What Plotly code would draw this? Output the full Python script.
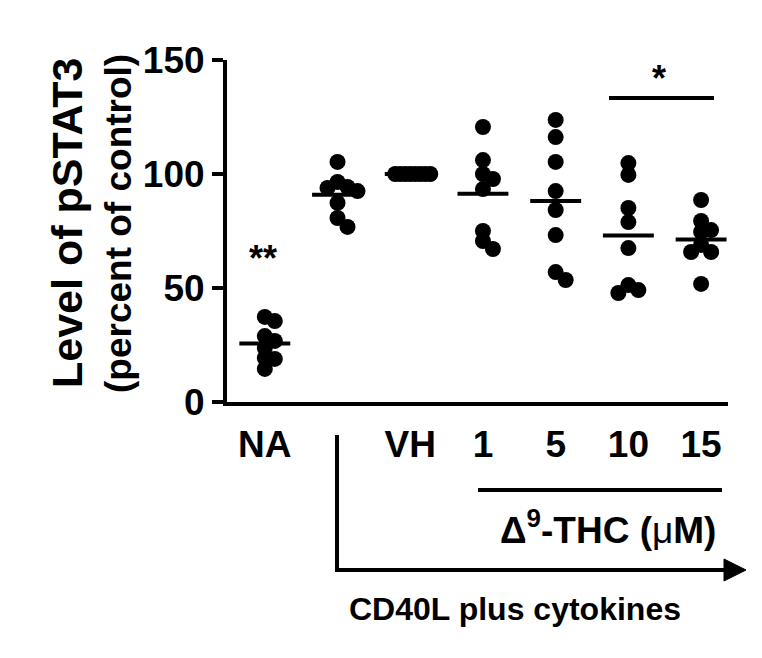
import plotly.graph_objects as go

_BLACK = "#000000"
_FONT = "Arial, Liberation Sans, sans-serif"

# groups along the x axis (the CD40L-only group has no label of its own)
groups = ["NA", "CD40L", "VH", "1", "5", "10", "15"]
tick_pos = [0, 2, 3, 4, 5, 6]
tick_labels = ["NA", "VH", "1", "5", "10", "15"]

# pSTAT3 level (percent of control), 8 donors per group
na_vals = [37.3, 35.5, 28.9, 26.8, 23.7, 19.3, 18.9, 14.5]
cd40_vals = [105.3, 96.5, 94.3, 93.9, 92.5, 87.3, 80.7, 76.8]
vh_vals = [100.0, 100.0, 100.0, 100.0, 100.0, 100.0, 100.0, 100.0]
thc1_vals = [120.6, 106.1, 100.0, 97.8, 93.4, 75.0, 70.6, 67.1]
thc5_vals = [123.7, 116.2, 105.3, 92.5, 84.2, 73.2, 57.0, 53.5]
thc10_vals = [104.8, 99.6, 85.1, 78.9, 67.5, 51.3, 49.1, 47.8]
thc15_vals = [88.6, 79.4, 75.4, 74.6, 68.9, 65.8, 65.8, 51.8]

all_vals = [na_vals, cd40_vals, vh_vals, thc1_vals, thc5_vals, thc10_vals, thc15_vals]

# page layout (px in the browser window); the page body adds an 8px offset
OFF = 8
W, H = 762 - OFF, 658 - OFF
PLOT_L, PLOT_R, PLOT_T, PLOT_B = 227, 728, 60, 402
X_RANGE = [-0.52, 6.37]
Y_RANGE = [0, 150]
px_x = (PLOT_R - PLOT_L) / (X_RANGE[1] - X_RANGE[0])
px_y = (PLOT_B - PLOT_T) / (Y_RANGE[1] - Y_RANGE[0])


def px(p):
    # page column -> paper x
    return (p - PLOT_L) / (PLOT_R - PLOT_L)


def py(p):
    # page row -> paper y
    return (PLOT_B - p) / (PLOT_B - PLOT_T)


def swarm(vals, step=10.0, dmin=10.0, max_half=20.0):
    """Simple beeswarm: returns x offsets in category units."""
    placed = []
    offs = []
    for v in vals:
        y = v * px_y
        k = 0
        while True:
            cand = (k + 1) // 2 * step * (1 if k % 2 else -1) if k else 0.0
            if all(((cand - a) ** 2 + (y - b) ** 2) ** 0.5 >= dmin for a, b in placed):
                break
            k += 1
        placed.append((cand, y))
        offs.append(cand)
    big = max(abs(o) for o in offs)
    if big > max_half:
        offs = [o * max_half / big for o in offs]
    return [o / px_x for o in offs]


fig = go.Figure()
for i, vals in enumerate(all_vals):
    offs = swarm(vals)
    mean = sum(vals) / len(vals)
    fig.add_trace(go.Scatter(
        x=[i - 0.35, i + 0.35],
        y=[mean, mean],
        mode="lines",
        line=dict(color=_BLACK, width=4),
        showlegend=False,
        hoverinfo="skip",
    ))
    fig.add_trace(go.Scatter(
        x=[i + o for o in offs],
        y=vals,
        mode="markers",
        marker=dict(color=_BLACK, size=16, line=dict(width=0)),
        showlegend=False,
        hoverinfo="y",
        cliponaxis=False,
    ))

line4 = dict(color=_BLACK, width=4)
shapes = [
    # significance bar over 10 and 15 uM
    dict(type="line", xref="paper", yref="paper", x0=px(609), x1=px(714),
         y0=py(98), y1=py(98), line=line4),
    # underline of THC doses
    dict(type="line", xref="paper", yref="paper", x0=px(478), x1=px(722),
         y0=py(490), y1=py(490), line=line4),
    # CD40L bracket: vertical then arrow to the right
    dict(type="line", xref="paper", yref="paper", x0=px(337), x1=px(337),
         y0=py(435), y1=py(572), line=line4),
    dict(type="line", xref="paper", yref="paper", x0=px(335), x1=px(728),
         y0=py(570), y1=py(570), line=line4),
    dict(type="path", xref="paper", yref="paper",
         path=f"M {px(724)},{py(559)} L {px(746)},{py(570)} L {px(724)},{py(581)} Z",
         fillcolor=_BLACK, line=dict(color=_BLACK, width=1)),
]

bold = dict(family=_FONT, color=_BLACK, size=37, weight="bold")
annotations = [
    dict(text="**", x=px(263), y=py(258), xref="paper", yref="paper", showarrow=False,
         font=dict(family=_FONT, color=_BLACK, size=36, weight="bold"),
         xanchor="center", yanchor="middle"),
    dict(text="*", x=px(659), y=py(78), xref="paper", yref="paper", showarrow=False,
         font=dict(family=_FONT, color=_BLACK, size=36, weight="bold"),
         xanchor="center", yanchor="middle"),
    dict(text="Δ<sup>9</sup>-THC (<span style='font-weight:normal'>μ</span>M)",
         x=px(608), y=py(527), xref="paper", yref="paper", showarrow=False,
         font=bold, xanchor="center", yanchor="middle"),
    dict(text="CD40L plus cytokines", x=px(515), y=py(609), xref="paper", yref="paper",
         showarrow=False, font=dict(family=_FONT, color=_BLACK, size=32, weight="bold"),
         xanchor="center", yanchor="middle"),
    dict(text="Level of pSTAT3", x=px(67), y=py(223),
         xref="paper", yref="paper", showarrow=False, textangle=-90,
         font=dict(family=_FONT, color=_BLACK, size=43, weight="bold"),
         xanchor="center", yanchor="middle"),
    dict(text="(percent of control)", x=px(118), y=py(224),
         xref="paper", yref="paper", showarrow=False, textangle=-90,
         font=dict(family=_FONT, color=_BLACK, size=37, weight="bold"),
         xanchor="center", yanchor="middle"),
]

fig.update_layout(
    width=W,
    height=H,
    paper_bgcolor="white",
    plot_bgcolor="white",
    margin=dict(l=PLOT_L - OFF, r=W - (PLOT_R - OFF), t=PLOT_T - OFF, b=H - (PLOT_B - OFF)),
    showlegend=False,
    shapes=shapes,
    annotations=annotations,
    xaxis=dict(
        range=X_RANGE,
        tickvals=tick_pos,
        ticktext=tick_labels,
        ticks="",
        showline=True,
        linecolor=_BLACK,
        linewidth=4,
        showgrid=False,
        zeroline=False,
        tickfont=bold,
        ticklabelstandoff=7,
    ),
    yaxis=dict(
        range=Y_RANGE,
        tickvals=[0, 50, 100, 150],
        ticks="outside",
        ticklen=11,
        tickwidth=4,
        tickcolor=_BLACK,
        showline=True,
        linecolor=_BLACK,
        linewidth=4,
        showgrid=False,
        zeroline=False,
        tickfont=bold,
    ),
)

fig.write_html("out.html")
